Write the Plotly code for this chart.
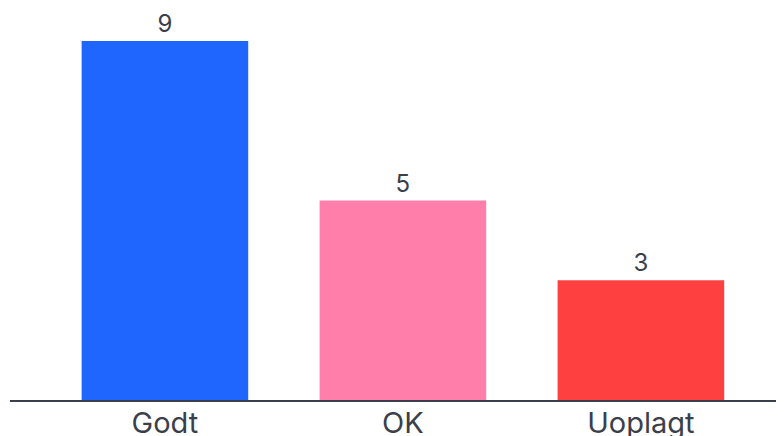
import plotly.graph_objects as go

categories = ["Godt", "OK", "Uoplagt"]
values = [9, 5, 3]
colors = ["#1F66FF", "#FF7EAA", "#FF4040"]

fig = go.Figure(go.Bar(
    x=categories, y=values,
    marker=dict(color=colors, line=dict(width=0)),
    text=[str(v) for v in values],
    textposition="outside",
    textfont=dict(family="Inter", size=24, color="#3a3f4b"),
    cliponaxis=False,
    width=0.70,
))

fig.update_layout(
    width=784, height=436,
    margin=dict(l=2, r=0, t=0, b=44),
    paper_bgcolor="white", plot_bgcolor="white",
    showlegend=False,
    font=dict(family="Inter", color="#3a3f4b"),
    xaxis=dict(
        range=[-0.651, 2.635],
        showgrid=False, zeroline=False,
        showline=True, linecolor="#3a3f4b", linewidth=2,
        ticks="", ticklabelstandoff=-4,
        tickfont=dict(size=29, color="#3a3f4b"),
    ),
    yaxis=dict(range=[0, 9.83], visible=False),
)

fig.write_html("out.html", config={"displayModeBar": False})
